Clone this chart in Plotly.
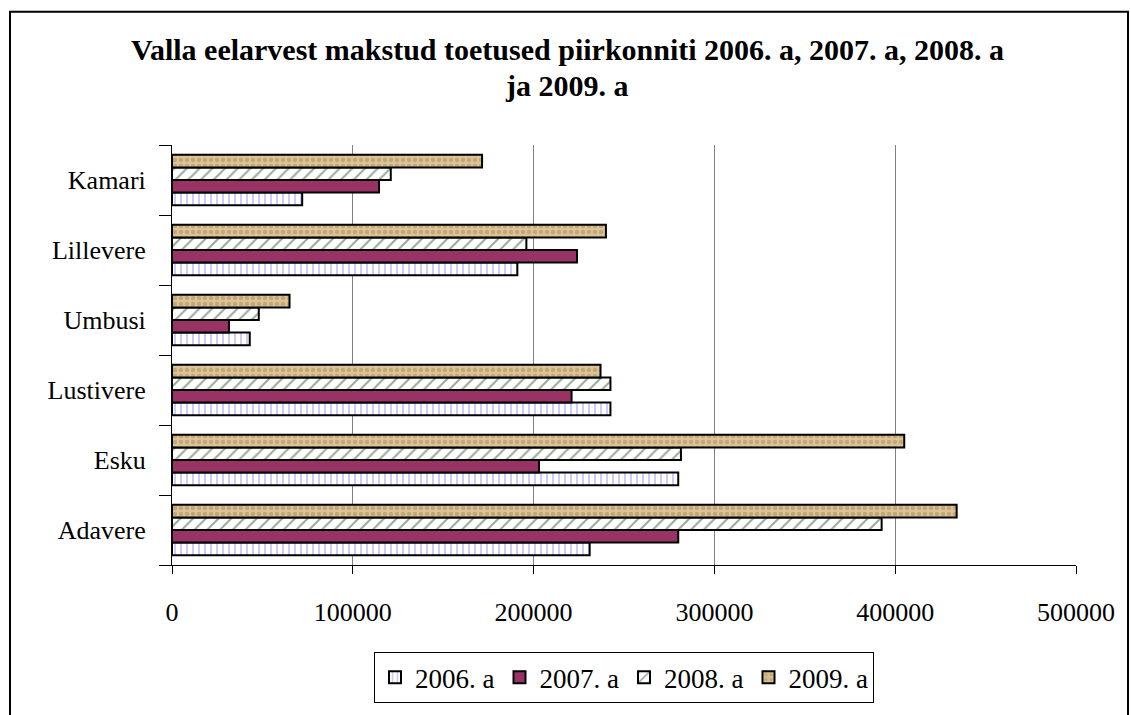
import plotly.graph_objects as go

categories = ["Adavere", "Esku", "Lustivere", "Umbusi", "Lillevere", "Kamari"]
series_names = ["2006. a", "2007. a", "2008. a", "2009. a"]
v2006 = [231000, 280000, 242500, 43000, 191000, 72000]
v2007 = [280000, 203000, 221000, 31500, 224000, 114500]
v2008 = [392500, 281500, 242500, 48000, 196000, 121000]
v2009 = [434000, 405000, 237000, 65000, 240000, 171500]
x_ticks = [0, 100000, 200000, 300000, 400000, 500000]

W, H = 1131, 715
L, R, T, B = 172, 1076, 145, 574

styles = [
    dict(color="white", pattern=dict(shape="|", fgcolor="#8c8cff", bgcolor="white", size=6, solidity=0.3, fillmode="overlay")),
    dict(color="#993366", pattern=None),
    dict(color="white", pattern=dict(shape="/", fgcolor="#2a5a2a", bgcolor="white", size=9, solidity=0.22, fillmode="overlay")),
    dict(color="#cdb07e", pattern=dict(shape=".", fgcolor="#a8895a", bgcolor="#dcc497", size=6, solidity=0.45, fillmode="overlay")),
]

font = "Liberation Serif"
fig = go.Figure()
for name, vals, st in zip(series_names, [v2006, v2007, v2008, v2009], styles):
    marker = dict(color=st["color"], line=dict(color="black", width=2))
    if st["pattern"]:
        marker["pattern"] = st["pattern"]
    fig.add_trace(go.Bar(y=categories, x=vals, name=name, orientation="h", marker=marker))

def px_x(p):
    return (p - L) / (R - L)

def px_y(p):
    return (B - p) / (B - T)

fig.update_layout(
    width=W, height=H,
    margin=dict(l=L, r=W - R, t=T, b=H - B),
    paper_bgcolor="white", plot_bgcolor="white",
    barmode="group", bargap=0.28, bargroupgap=0,
    font=dict(family=font, size=26, color="black"),
    showlegend=True,
    legend=dict(orientation="h", x=0.5, xanchor="center", y=px_y(663), yanchor="top",
                bordercolor="black", borderwidth=1, font=dict(size=27, family=font),
                traceorder="normal", itemwidth=30, tracegroupgap=0),
    xaxis=dict(range=[0, 500000], tickvals=x_ticks, ticktext=[str(v) for v in x_ticks],
               showgrid=True, gridcolor="#808080", gridwidth=1, zeroline=False,
               showline=True, linecolor="black", linewidth=1,
               ticks="outside", ticklen=8, tickcolor="black", ticklabelstandoff=16,
               tickfont=dict(family=font, size=26)),
    yaxis=dict(showgrid=False, showline=True, linecolor="black", linewidth=1,
               ticks="outside", ticklen=12, tickcolor="black", tickson="boundaries",
               ticklabelstandoff=20, tickfont=dict(family=font, size=26)),
    shapes=[dict(type="rect", xref="paper", yref="paper",
                 x0=px_x(10), x1=px_x(1128), y0=px_y(740), y1=px_y(9),
                 line=dict(color="black", width=2), fillcolor="rgba(0,0,0,0)", layer="below")],
    annotations=[
        dict(text="<b>Valla eelarvest makstud toetused piirkonniti 2006. a, 2007. a, 2008. a</b>",
             xref="paper", yref="paper", x=px_x(567), y=px_y(47), xanchor="center", yanchor="middle",
             showarrow=False, font=dict(size=30, family=font)),
        dict(text="<b>ja 2009. a</b>",
             xref="paper", yref="paper", x=px_x(567), y=px_y(84), xanchor="center", yanchor="middle",
             showarrow=False, font=dict(size=30, family=font)),
    ],
)

fig.write_html("out.html", config={"displayModeBar": False},
               post_script="document.body.style.margin='0';document.body.style.overflow='hidden';")
